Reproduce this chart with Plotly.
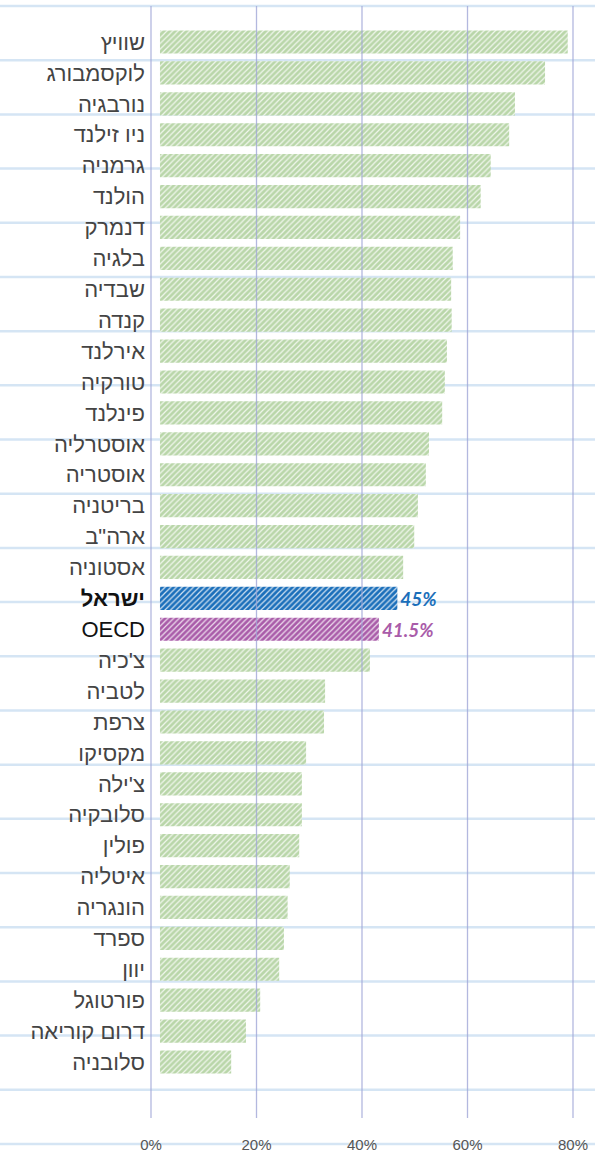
import plotly.graph_objects as go

####### Data ######
countries = [
    "שוויץ", "לוקסמבורג", "נורבגיה", "ניו זילנד", "גרמניה", "הולנד", "דנמרק",
    "בלגיה", "שבדיה", "קנדה", "אירלנד", "טורקיה", "פינלנד", "אוסטרליה",
    "אוסטריה", "בריטניה", "ארה\"ב", "אסטוניה", "ישראל", "OECD", "צ'כיה",
    "לטביה", "צרפת", "מקסיקו", "צ'ילה", "סלובקיה", "פולין", "איטליה",
    "הונגריה", "ספרד", "יוון", "פורטוגל", "דרום קוריאה", "סלובניה",
]
values = [
    77.3, 73.0, 67.3, 66.2, 62.7, 60.8, 56.9,
    55.5, 55.2, 55.3, 54.4, 54.0, 53.5, 51.0,
    50.4, 48.9, 48.2, 46.1, 45.0, 41.5, 39.8,
    31.3, 31.1, 27.7, 26.9, 26.9, 26.4, 24.6,
    24.2, 23.5, 22.6, 19.0, 16.3, 13.5,
]
highlight = {"ישראל": "#1b6fba", "OECD": "#a95ca9"}
tick_vals = [0, 20, 40, 60, 80]
tick_text = ["0%", "20%", "40%", "60%", "80%"]

####### Styling ######
W, H = 595, 1152
GREEN = "#b9d6a9"
HATCH = "rgba(255,255,255,0.8)"
bar_start = 1.7  # bars start a little right of the 0% line


def hatched_bar(ys, xs, color, text=None):
    return go.Bar(
        y=ys,
        x=xs,
        base=bar_start,
        orientation="h",
        marker=dict(
            color=color,
            line=dict(width=0),
            pattern=dict(shape="/", bgcolor=color, fgcolor=HATCH,
                         size=4, solidity=0.3, fillmode="replace"),
        ),
        text=text,
        textposition="outside",
        cliponaxis=False,
        textfont=dict(family="Lato", size=22, color=color,
                      style="italic", weight="bold"),
        hoverinfo="skip",
    )


fig = go.Figure()
others = [(c, v) for c, v in zip(countries, values) if c not in highlight]
fig.add_trace(hatched_bar([c for c, _ in others], [v for _, v in others], GREEN))
for c, v in zip(countries, values):
    if c in highlight:
        fig.add_trace(hatched_bar([c], [v], highlight[c], [f"{v:g}%"]))

labels = []
for c in countries:
    if c == "ישראל":
        labels.append(f"<b><span style='color:#111'>{c}</span></b>")
    elif c == "OECD":
        labels.append(f"<span style='color:#111'>{c}</span>")
    else:
        labels.append(c)

# notebook paper lines
shapes = []
for k in range(22):
    y_px = 6 + 54.19 * k
    shapes.append(dict(type="line", xref="paper", yref="paper", x0=0, x1=1,
                       y0=1 - y_px / H, y1=1 - y_px / H, layer="below",
                       line=dict(color="#d5e5f4", width=2.5)))
# vertical gridlines
for t in tick_vals:
    shapes.append(dict(type="line", xref="x", yref="paper", x0=t, x1=t,
                       y0=1 - 1118 / H, y1=1 - 6 / H, layer="above",
                       line=dict(color="rgba(160,166,215,0.8)", width=1.3)))

# x range so that 0% sits at 151px and 80% at 573px
px_per_unit = (573 - 151) / 80
x_range = [-151 / px_per_unit, (W - 151) / px_per_unit]
row = (1062 - 42) / 33
y_range = [(H - 42) / row, -42 / row]

fig.update_layout(
    width=W,
    height=H,
    margin=dict(l=0, r=0, t=0, b=0),
    paper_bgcolor="white",
    plot_bgcolor="white",
    showlegend=False,
    barmode="overlay",
    bargap=0.25,
    shapes=shapes,
    xaxis=dict(
        range=x_range,
        anchor="free",
        position=1 - 1134 / H,
        tickvals=tick_vals,
        ticktext=tick_text,
        ticks="",
        showgrid=False,
        zeroline=False,
        showline=False,
        automargin=False,
        tickfont=dict(family="Liberation Sans", size=15, color="#555"),
    ),
    yaxis=dict(
        range=y_range,
        anchor="free",
        position=151 / W,
        categoryorder="array",
        categoryarray=countries,
        tickvals=countries,
        ticktext=labels,
        ticks="",
        ticklabelstandoff=6,
        showgrid=False,
        zeroline=False,
        showline=False,
        automargin=False,
        tickfont=dict(family="Liberation Sans", size=22, color="#444"),
    ),
)

# page body has a default 8px margin; drop it so the chart fills the window
fig.write_html("out.html", config={"displayModeBar": False},
               post_script="document.body.style.margin='0';")
